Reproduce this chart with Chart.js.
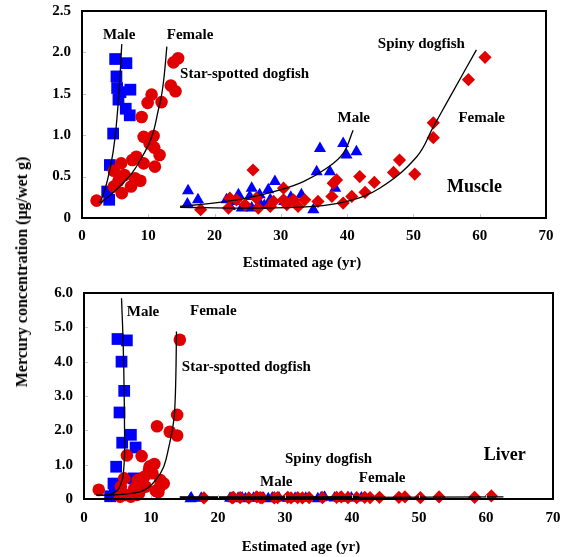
<!DOCTYPE html>
<html>
<head>
<meta charset="utf-8">
<script src="https://cdn.jsdelivr.net/npm/chart.js@4/dist/chart.umd.min.js"></script>
<style>
  html, body { margin: 0; padding: 0; background: #fff; overflow: hidden; }
  #wrap { position: relative; width: 566px; height: 557px; }
  canvas { position: absolute; left: 0; }
  #muscle { top: 0; }
  #liver { top: 270px; }
  .title { position: absolute; font: bold 15px "Liberation Serif", "Times New Roman", serif; color: #000; white-space: nowrap; transform: translate(-50%, -50%); }
  #ytitle { left: 22px; top: 272px; font-size: 16px; transform: translate(-50%, -50%) rotate(-90deg); }
</style>
</head>
<body>
<div id="wrap">
  <canvas id="muscle" width="566" height="270"></canvas>
  <canvas id="liver" width="566" height="287"></canvas>
  <div class="title" style="left:302px; top:262px;">Estimated age (yr)</div>
  <div class="title" style="left:301px; top:546px;">Estimated age (yr)</div>
  <div class="title" id="ytitle">Mercury concentration (μg/wet g)</div>
</div>
<script>
// ---- tick values ----
const ageTicks = [0, 10, 20, 30, 40, 50, 60, 70];
const muscleTicks = [0, 0.5, 1.0, 1.5, 2.0, 2.5];
const liverTicks = [0, 1, 2, 3, 4, 5, 6];

// ---- Muscle: [age (yr), Hg (ug/wet g)] ----
const muscleStarMale = [[5.0,1.92],[6.7,1.87],[5.2,1.71],[5.3,1.57],[7.3,1.55],[5.8,1.52],[5.5,1.43],[6.6,1.32],[7.2,1.24],[4.7,1.02],[4.2,0.64],[3.8,0.32],[4.1,0.22]];
const muscleStarFemale = [[14.5,1.93],[13.8,1.88],[13.4,1.60],[14.1,1.53],[12.0,1.40],[10.5,1.49],[9.9,1.39],[9.0,1.22],[9.3,0.98],[10.8,0.99],[10.9,0.85],[11.7,0.76],[11.0,0.62],[9.3,0.66],[8.2,0.74],[7.6,0.70],[5.9,0.66],[4.8,0.57],[6.4,0.52],[8.0,0.48],[7.4,0.38],[6.0,0.30],[4.8,0.38],[2.2,0.21],[8.8,0.45],[5.5,0.45],[10.2,0.90]];
const muscleSpinyMale = [[16.0,0.33],[15.9,0.17],[17.5,0.22],[21.8,0.22],[22.3,0.14],[23.0,0.20],[23.6,0.28],[24.1,0.12],[25.3,0.26],[25.6,0.36],[25.6,0.12],[26.8,0.28],[26.8,0.18],[27.5,0.15],[28.1,0.34],[28.4,0.22],[29.1,0.44],[30.5,0.20],[31.5,0.25],[33.1,0.28],[34.9,0.10],[35.4,0.56],[35.9,0.84],[37.4,0.56],[38.2,0.36],[39.4,0.90],[39.9,0.76],[41.4,0.80]];
const muscleSpinyFemale = [[17.9,0.10],[22.1,0.12],[22.3,0.24],[23.3,0.22],[24.6,0.16],[25.8,0.58],[26.3,0.24],[26.6,0.12],[28.4,0.14],[28.9,0.20],[30.4,0.36],[30.4,0.22],[30.9,0.16],[31.9,0.22],[32.6,0.14],[33.6,0.22],[35.6,0.20],[37.7,0.26],[37.9,0.42],[38.4,0.46],[39.4,0.18],[40.7,0.26],[41.9,0.50],[42.7,0.31],[44.1,0.43],[47.0,0.55],[47.9,0.70],[50.2,0.53],[53.0,0.97],[53.0,1.15],[58.3,1.67],[60.8,1.94]];

// fitted curves (muscle)
const muscleStarMaleFit = [[2.6,0.18],[3.3,0.30],[4.3,0.62],[5.0,0.98],[5.6,1.55],[6.0,2.10]];
const muscleStarFemaleFit = [[2.8,0.18],[5.3,0.35],[7.5,0.54],[8.8,0.70],[10.0,0.88],[10.8,1.05],[11.5,1.30],[12.0,1.48],[12.4,1.72],[12.8,2.07]];
const muscleSpinyMaleFit = [[14.8,0.14],[19.8,0.18],[24.8,0.24],[29.9,0.34],[33.4,0.44],[36.9,0.60],[39.4,0.78],[40.9,1.06]];
const muscleSpinyFemaleFit = [[14.8,0.13],[24.8,0.12],[34.9,0.14],[39.9,0.20],[44.9,0.36],[50.5,0.74],[53.0,1.10],[55.5,1.46],[59.5,2.03]];

// ---- Liver ----
const liverStarMale = [[5.0,4.66],[6.4,4.62],[5.6,4.00],[6.0,3.15],[5.3,2.52],[7.0,1.87],[5.7,1.64],[7.7,1.50],[4.8,0.94],[4.4,0.45],[3.9,0.08],[7.4,0.60],[4.6,0.20]];
const liverStarFemale = [[14.3,4.64],[13.9,2.45],[10.9,2.12],[12.8,1.96],[13.9,1.85],[6.4,1.27],[8.6,1.25],[10.5,1.02],[9.7,0.85],[9.0,0.65],[8.0,0.55],[11.4,0.55],[11.9,0.45],[10.7,0.24],[2.2,0.27],[6.0,0.60],[5.5,0.36],[6.2,0.12],[7.5,0.31],[8.2,0.16],[9.2,0.36],[11.1,0.20],[11.4,0.38],[7.0,0.07],[5.4,0.07],[7.9,0.12],[9.8,0.95],[10.2,0.75]];
const liverSpinyMale = [[16.0,0.03],[15.9,0.01],[17.5,0.02],[21.8,0.02],[22.3,0.01],[23.0,0.02],[23.6,0.03],[24.1,0.01],[25.3,0.02],[25.6,0.03],[26.8,0.02],[27.5,0.01],[28.1,0.03],[28.4,0.02],[29.1,0.03],[30.5,0.02],[31.5,0.02],[33.1,0.02],[34.9,0.01],[35.4,0.04],[35.9,0.05],[37.4,0.03],[38.2,0.02],[39.4,0.04],[39.9,0.03],[41.4,0.03]];
const liverSpinyFemale = [[17.9,0.03],[22.1,0.03],[22.3,0.05],[23.3,0.04],[24.6,0.03],[25.8,0.06],[26.3,0.04],[26.6,0.03],[28.4,0.03],[28.9,0.04],[30.4,0.05],[30.9,0.03],[31.9,0.04],[32.6,0.03],[33.6,0.04],[35.6,0.04],[37.7,0.05],[38.4,0.06],[39.4,0.04],[40.7,0.04],[41.9,0.05],[42.7,0.04],[44.1,0.05],[47.0,0.05],[47.9,0.06],[50.2,0.04],[53.0,0.06],[58.3,0.05],[60.8,0.09]];

// fitted curves (liver)
const liverStarMaleFit = [[2.0,0.10],[3.7,0.12],[4.6,0.20],[5.2,0.31],[5.7,0.55],[5.9,0.80],[6.05,1.3],[6.05,2.0],[6.0,3.0],[5.85,4.5],[5.6,5.85]];
const liverStarFemaleFit = [[1.8,0.12],[3.0,0.11],[6.5,0.15],[9.0,0.26],[10.7,0.55],[11.9,0.94],[12.7,1.55],[13.2,2.03],[13.5,2.48],[13.7,3.5],[13.8,4.88]];
const liverSpinyMaleFit = [[14.3,0.06],[28.0,0.06],[41.0,0.07]];
const liverSpinyFemaleFit = [[14.3,0.05],[40.0,0.05],[62.6,0.06]];

const BLUE = '#0000ff';
const RED = '#e00000';
const FONT = '"Liberation Serif", "Times New Roman", serif';

const xy = arr => arr.map(([x, y]) => ({ x, y }));

function markers(data, style, color, radius, order) {
  return { data: xy(data), pointStyle: style, pointRadius: radius, pointHoverRadius: radius,
           backgroundColor: color, borderColor: color, pointBorderWidth: 0, borderWidth: 0,
           showLine: false, clip: false, order };
}
function fit(data) {
  return { data: xy(data), showLine: true, pointRadius: 0, pointHoverRadius: 0,
           borderColor: '#000', borderWidth: 1.3, tension: 0.4, fill: false, clip: false, order: 0 };
}

// frame, inward tick marks and in-plot labels
const panelDecor = {
  id: 'panelDecor',
  afterDatasetsDraw(chart, args, opts) {
    const { ctx, chartArea: a, scales } = chart;
    ctx.save();
    ctx.strokeStyle = '#c4c4c4';
    ctx.lineWidth = 1;
    scales.y.ticks.forEach(t => {
      const py = Math.round(scales.y.getPixelForValue(t.value)) + 0.5;
      if (py > a.top + 2 && py < a.bottom - 2) {
        ctx.beginPath(); ctx.moveTo(a.left, py); ctx.lineTo(a.left + 4, py); ctx.stroke();
      }
    });
    scales.x.ticks.forEach(t => {
      const px = Math.round(scales.x.getPixelForValue(t.value)) + 0.5;
      if (px > a.left + 2 && px < a.right - 2) {
        ctx.beginPath(); ctx.moveTo(px, a.bottom); ctx.lineTo(px, a.bottom - 4); ctx.stroke();
      }
    });
    ctx.strokeStyle = '#000';
    ctx.lineWidth = 2;
    ctx.strokeRect(a.left, a.top, a.right - a.left, a.bottom - a.top);
    ctx.fillStyle = '#000';
    ctx.textBaseline = 'middle';
    (opts.labels || []).forEach(l => {
      ctx.font = `bold ${l.size || 15}px ${FONT}`;
      ctx.textAlign = l.align || 'center';
      ctx.fillText(l.text, scales.x.getPixelForValue(l.x), scales.y.getPixelForValue(l.y));
    });
    ctx.restore();
  }
};

function panel(canvasId, cfg) {
  const tickFont = { family: FONT, size: 15, weight: 'bold' };
  return new Chart(document.getElementById(canvasId), {
    type: 'scatter',
    data: { datasets: cfg.datasets },
    options: {
      responsive: false,
      animation: false,
      events: [],
      layout: { padding: { left: 0, right: cfg.padRight, top: cfg.padTop, bottom: 0 } },
      plugins: { legend: { display: false }, tooltip: { enabled: false }, panelDecor: { labels: cfg.labels } },
      scales: {
        x: {
          type: 'linear', min: 0, max: 70,
          afterBuildTicks: s => { s.ticks = ageTicks.map(v => ({ value: v })); },
          grid: { display: false, drawTicks: false },
          border: { display: false },
          ticks: { font: tickFont, color: '#000', padding: cfg.xPad, maxRotation: 0, callback: v => String(v) },
          afterFit: s => { s.height = cfg.xHeight; s.paddingLeft = 0; s.paddingRight = 0; }
        },
        y: {
          type: 'linear', min: 0, max: cfg.yMax,
          afterBuildTicks: s => { s.ticks = cfg.yTicks.map(v => ({ value: v })); },
          grid: { display: false, drawTicks: false },
          border: { display: false },
          ticks: { font: tickFont, color: '#000', padding: 11, callback: v => (v === 0 ? '0' : Number(v).toFixed(1)) },
          afterFit: s => { s.width = cfg.yWidth; s.paddingTop = 0; s.paddingBottom = 0; }
        }
      }
    },
    plugins: [panelDecor]
  });
}

panel('muscle', {
  yMax: 2.5, yTicks: muscleTicks,
  padTop: 11, padRight: 20, xHeight: 52, yWidth: 82, xPad: 9,
  datasets: [
    fit(muscleStarMaleFit), fit(muscleStarFemaleFit), fit(muscleSpinyMaleFit), fit(muscleSpinyFemaleFit),
    markers(muscleStarFemale, 'circle', RED, 6.3, 1),
    markers(muscleSpinyFemale, 'rectRot', RED, 6.6, 1),
    markers(muscleStarMale, 'rect', BLUE, 8.3, 2),
    markers(muscleSpinyMale, 'triangle', BLUE, 7, 2)
  ],
  labels: [
    { text: 'Male', x: 5.6, y: 2.21 },
    { text: 'Female', x: 16.3, y: 2.21 },
    { text: 'Star-spotted dogfish', x: 14.8, y: 1.74, align: 'left' },
    { text: 'Spiny dogfish', x: 51.2, y: 2.10 },
    { text: 'Male', x: 41.0, y: 1.21 },
    { text: 'Female', x: 60.3, y: 1.21 },
    { text: 'Muscle', x: 59.2, y: 0.37, size: 18 }
  ]
});

panel('liver', {
  yMax: 6, yTicks: liverTicks,
  padTop: 23, padRight: 13, xHeight: 58, yWidth: 84, xPad: 10,
  datasets: [
    fit(liverStarMaleFit), fit(liverStarFemaleFit), fit(liverSpinyMaleFit), fit(liverSpinyFemaleFit),
    markers(liverStarFemale, 'circle', RED, 6.3, 1),
    markers(liverSpinyFemale, 'rectRot', RED, 6.6, 1),
    markers(liverStarMale, 'rect', BLUE, 8.3, 2),
    markers(liverSpinyMale, 'triangle', BLUE, 7, 2)
  ],
  labels: [
    { text: 'Male', x: 8.8, y: 5.45 },
    { text: 'Female', x: 19.3, y: 5.48 },
    { text: 'Star-spotted dogfish', x: 14.6, y: 3.85, align: 'left' },
    { text: 'Spiny dogfish', x: 36.5, y: 1.17 },
    { text: 'Male', x: 28.7, y: 0.50 },
    { text: 'Female', x: 44.5, y: 0.61 },
    { text: 'Liver', x: 62.8, y: 1.28, size: 18 }
  ]
});
</script>
</body>
</html>
